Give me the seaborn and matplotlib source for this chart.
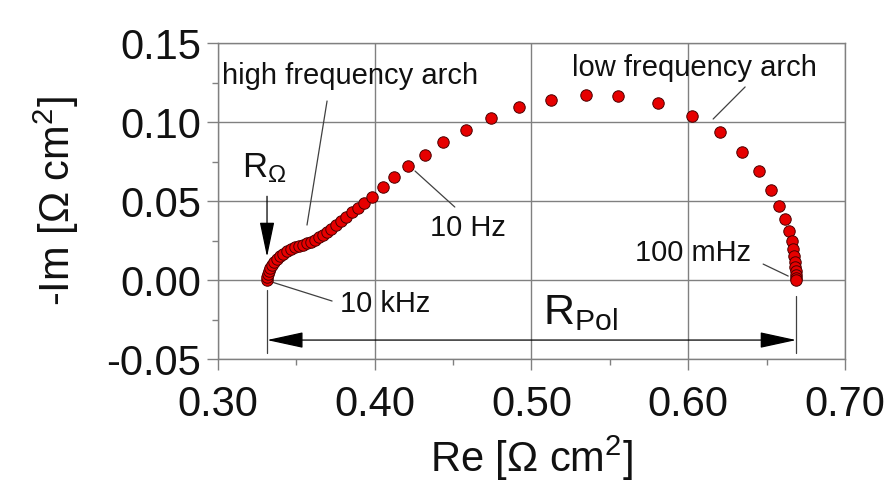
import numpy as np
import pandas as pd
import matplotlib
matplotlib.use("Agg")
import matplotlib.pyplot as plt
import seaborn as sns
from matplotlib.ticker import MultipleLocator, FormatStrFormatter

# global style
sns.set_style("ticks")
plt.rcParams["font.family"] = ["Liberation Sans", "DejaVu Sans"]
plt.rcParams["mathtext.fontset"] = "custom"
plt.rcParams["mathtext.rm"] = "Liberation Sans"
plt.rcParams["mathtext.it"] = "Liberation Sans:italic"
plt.rcParams["axes.unicode_minus"] = False
plt.rcParams["text.color"] = "#111111"
plt.rcParams["axes.labelcolor"] = "#111111"

# impedance spectrum (high -> low frequency)
re_z = [0.3313, 0.3313, 0.3319, 0.3325, 0.3332, 0.3345, 0.3357, 0.3376, 0.3396, 0.3415,
        0.3440, 0.3466, 0.3491, 0.3517, 0.3542, 0.3568, 0.3593, 0.3619, 0.3645, 0.3670,
        0.3696, 0.3721, 0.3753, 0.3785, 0.3817, 0.3855, 0.3893, 0.3932, 0.3983, 0.4053,
        0.4123, 0.4212, 0.4321, 0.4436, 0.4583, 0.4742, 0.4921, 0.5125, 0.5348, 0.5553,
        0.5808, 0.6025, 0.6204, 0.6344, 0.6452, 0.6529, 0.6580, 0.6618, 0.6644, 0.6663,
        0.6669, 0.6676, 0.6682, 0.6682, 0.6689, 0.6689, 0.6689, 0.6689]
im_z = [0.0000, 0.0019, 0.0038, 0.0057, 0.0076, 0.0095, 0.0114, 0.0133, 0.0152, 0.0165,
        0.0184, 0.0196, 0.0209, 0.0215, 0.0222, 0.0234, 0.0241, 0.0253, 0.0272, 0.0285,
        0.0304, 0.0323, 0.0348, 0.0373, 0.0399, 0.0430, 0.0456, 0.0487, 0.0525, 0.0589,
        0.0652, 0.0722, 0.0791, 0.0873, 0.0949, 0.1025, 0.1095, 0.1139, 0.1171, 0.1165,
        0.1120, 0.1038, 0.0937, 0.0810, 0.0690, 0.0570, 0.0468, 0.0386, 0.0310, 0.0247,
        0.0196, 0.0152, 0.0114, 0.0082, 0.0057, 0.0032, 0.0013, 0.0000]

r_ohm = 0.3313
r_end = 0.6689

df = pd.DataFrame({"Re": re_z, "Im": im_z})

fig = plt.figure(figsize=(8.9, 4.9), dpi=100)
ax = fig.add_axes([0.2449, 0.2673, 0.7045, 0.6449])

sns.scatterplot(data=df, x="Re", y="Im", ax=ax, color="#e60000", edgecolor="#4a0000",
                linewidth=0.7, s=68, zorder=3, legend=False)

ax.set_xlim(0.30, 0.70)
ax.set_ylim(-0.05, 0.15)
ax.xaxis.set_major_locator(MultipleLocator(0.10))
ax.xaxis.set_minor_locator(MultipleLocator(0.05))
ax.yaxis.set_major_locator(MultipleLocator(0.05))
ax.yaxis.set_minor_locator(MultipleLocator(0.025))
ax.xaxis.set_major_formatter(FormatStrFormatter("%.2f"))
ax.yaxis.set_major_formatter(FormatStrFormatter("%.2f"))

gray = "#808080"
ax.grid(True, which="major", color=gray, linewidth=1.0, zorder=0)
for sp in ax.spines.values():
    sp.set_color(gray)
    sp.set_linewidth(1.0)
ax.tick_params(which="major", direction="out", length=8, width=1.0, color=gray,
               labelsize=30, labelcolor="#111111", pad=4)
ax.tick_params(which="minor", direction="out", length=4, width=1.0, color=gray)
ax.tick_params(axis="x", which="major", pad=11)

ax.set_xlabel("Re [$\\Omega$ cm$^2$]", fontsize=30, labelpad=6)
ax.set_ylabel("-Im [$\\Omega$ cm$^2$]", fontsize=30, labelpad=18)

# leader lines for the annotations
lc = "#404040"
ax.plot([0.3345, 0.3728], [-0.0013, -0.0133], color=lc, lw=0.9, zorder=2)
ax.plot([0.4257, 0.4511], [0.0690, 0.0462], color=lc, lw=0.9, zorder=2)
ax.plot([0.6478, 0.6638], [0.0101, 0.0025], color=lc, lw=0.9, zorder=2)
ax.plot([0.3696, 0.3568], [0.1133, 0.0348], color=lc, lw=0.9, zorder=2)
ax.plot([0.6363, 0.6159], [0.1222, 0.1019], color=lc, lw=0.9, zorder=2)

fs = 21
ax.text(0.3779, -0.0203, "10 kHz", fontsize=fs, va="baseline")
ax.text(0.4353, 0.0278, "10 Hz", fontsize=fs, va="baseline")
ax.text(0.5661, 0.0120, "100 mHz", fontsize=fs, va="baseline")
ax.text(0.3026, 0.1240, "high frequency arch", fontsize=fs, va="baseline")
ax.text(0.5259, 0.1290, "low frequency arch", fontsize=fs, va="baseline")

# R_Omega arrow
ax.annotate("", xy=(r_ohm, 0.0146), xytext=(r_ohm, 0.053),
            arrowprops=dict(arrowstyle="-|>,head_length=1.1,head_width=0.23",
                            mutation_scale=20, color="black", lw=0.9,
                            shrinkA=0, shrinkB=0), zorder=4)
ax.text(0.3153, 0.0652, r"R$_{\Omega}$", fontsize=25, va="baseline")

# R_Pol span
ax.plot([r_ohm, r_ohm], [-0.006, -0.046], color=lc, lw=0.9)
ax.plot([r_end, r_end], [-0.010, -0.046], color=lc, lw=0.9)
ax.annotate("", xy=(r_end, -0.038), xytext=(r_ohm, -0.038),
            arrowprops=dict(arrowstyle="<|-|>,head_length=1.15,head_width=0.25",
                            mutation_scale=20, color="black", lw=0.9,
                            shrinkA=0, shrinkB=0), zorder=4)
ax.text(0.5074, -0.0278, r"R$_{\mathrm{Pol}}$", fontsize=31, va="baseline")

fig.savefig("out.png", dpi=100)
